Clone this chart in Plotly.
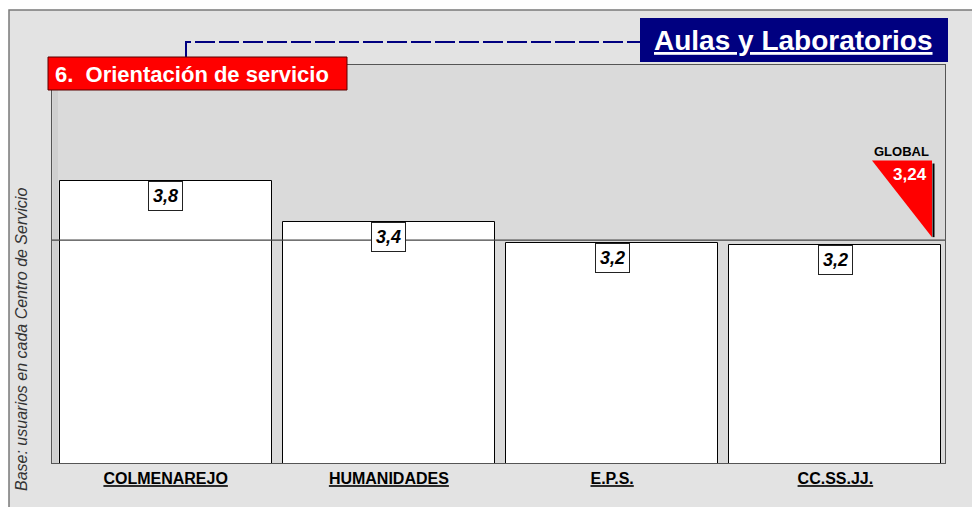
import plotly.graph_objects as go

# datos
centros = ["COLMENAREJO", "HUMANIDADES", "E.P.S.", "CC.SS.JJ."]
valores = [3.83, 3.42, 3.21, 3.19]
valor_global = 3.24
titulo = "Aulas y Laboratorios"
subtitulo = "6.&nbsp; Orientación de servicio"
eje_y = "Base: usuarios en cada Centro de Servicio"

# la pagina tiene 8px de margen en el body
OFF = 8
W, H = 980 - OFF, 507 - OFF
ML, MT = 52 - OFF, 65 - OFF
MR, MB = W - (945 - OFF), H - (463 - OFF)
PW, PH = W - ML - MR, H - MT - MB


# pixel de la ventana -> coordenadas paper
def px(x):
    return (x - 52) / PW


def py(y):
    return (463 - y) / PH


FONT = "Liberation Sans, Arial, sans-serif"

fig = go.Figure()

fig.add_trace(go.Bar(
    x=centros, y=valores, width=0.95,
    marker=dict(color="white", line=dict(color="black", width=1)),
    hoverinfo="skip", showlegend=False,
))

shapes = [
    # fondo blanco fuera del marco
    dict(type="rect", xref="paper", yref="paper", x0=px(-5), x1=px(990),
         y0=py(10), y1=py(-5), fillcolor="white", line_width=0, layer="below"),
    dict(type="rect", xref="paper", yref="paper", x0=px(-5), x1=px(9),
         y0=py(520), y1=py(-5), fillcolor="white", line_width=0, layer="below"),
    # marco exterior
    dict(type="path", xref="paper", yref="paper",
         path=f"M {px(9)} {py(520)} L {px(9)} {py(10)} L {px(990)} {py(10)}",
         line=dict(color="#7a7a7a", width=1.5)),
    # pared izquierda (efecto 3d)
    dict(type="rect", xref="paper", yref="paper", x0=px(52.5), x1=px(58),
         y0=0, y1=1, fillcolor="#cfcfcf", line_width=0, layer="below"),
    # linea global
    dict(type="line", xref="paper", yref="y", x0=0, x1=1,
         y0=valor_global, y1=valor_global, line=dict(color="#444", width=1.3)),
    # triangulo global
    dict(type="path", xref="paper", yref="y",
         path=f"M {px(872)} {valor_global + 0.8} L {px(932)} {valor_global + 0.8} "
              f"L {px(932)} {valor_global + 0.03} Z",
         fillcolor="#ff0000", line_width=0),
    dict(type="line", xref="paper", yref="y", x0=px(933.5), x1=px(933.5),
         y0=valor_global + 0.77, y1=valor_global + 0.03,
         line=dict(color="black", width=2)),
    # linea discontinua
    dict(type="path", xref="paper", yref="paper",
         path=f"M {px(186)} {py(57)} L {px(186)} {py(42)} L {px(640)} {py(42)}",
         line=dict(color="#000080", width=2, dash="20px,4px")),
    # caja titulo
    dict(type="rect", xref="paper", yref="paper", x0=px(640), x1=px(948),
         y0=py(62), y1=py(18), fillcolor="#000080", line_width=0),
    # caja subtitulo
    dict(type="rect", xref="paper", yref="paper", x0=px(48), x1=px(347),
         y0=py(90), y1=py(57), fillcolor="#ff0000",
         line=dict(color="#5a0000", width=1)),
]

annotations = [
    dict(xref="paper", yref="paper", x=px(793), y=py(40), xanchor="center",
         yanchor="middle", text=f"<b><u>{titulo}</u></b>", showarrow=False,
         font=dict(family=FONT, size=28, color="white")),
    dict(xref="paper", yref="paper", x=px(53), y=py(74), xanchor="left",
         yanchor="middle", text=f"<b>{subtitulo}</b>", showarrow=False,
         font=dict(family=FONT, size=22, color="white")),
    dict(xref="paper", yref="paper", x=px(21), y=py(340), xanchor="center",
         yanchor="middle", text=f"<i>{eje_y}</i>", textangle=-90, showarrow=False,
         font=dict(family=FONT, size=16, color="#333")),
    dict(xref="paper", yref="y", x=px(901), y=valor_global + 0.8, xanchor="center",
         yanchor="bottom", text="<b>GLOBAL</b>", showarrow=False, yshift=0,
         font=dict(family=FONT, size=13, color="black")),
    dict(xref="paper", yref="y", x=px(910), y=valor_global + 0.8, xanchor="center",
         yanchor="top", text="<b>" + f"{valor_global:.2f}".replace(".", ",") + "</b>",
         showarrow=False, yshift=-2,
         font=dict(family=FONT, size=17, color="white")),
]

for c, v in zip(centros, valores):
    annotations.append(dict(
        x=c, y=v, xanchor="center", yanchor="top", showarrow=False,
        text="<b><i>" + f"{v:.1f}".replace(".", ",") + "</i></b>",
        bgcolor="white", bordercolor="#222", borderwidth=1, borderpad=4,
        font=dict(family=FONT, size=18, color="black"),
    ))

fig.update_layout(
    width=W, height=H,
    margin=dict(l=ML, r=MR, t=MT, b=MB),
    paper_bgcolor="#e3e3e3",
    plot_bgcolor="#dadada",
    shapes=shapes,
    annotations=annotations,
    bargap=0,
    xaxis=dict(
        tickvals=centros, ticktext=[f"<b><u>{c}</u></b>" for c in centros],
        range=[-0.509, 3.491], showline=True, mirror=True, linecolor="#555",
        ticks="outside", ticklen=1, tickcolor="rgba(0,0,0,0)",
        tickfont=dict(family=FONT, size=16, color="black"),
        showgrid=False, fixedrange=True,
    ),
    yaxis=dict(
        range=[1, 5], showticklabels=False, showgrid=False, zeroline=False,
        showline=True, mirror=True, linecolor="#555", fixedrange=True,
    ),
)

fig.write_html("out.html")
